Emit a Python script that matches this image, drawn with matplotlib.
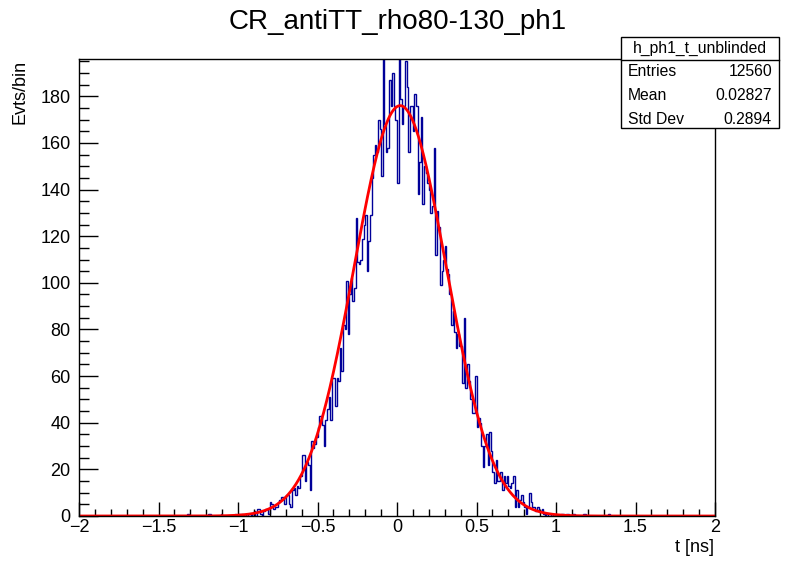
import numpy as np
import matplotlib
matplotlib.use('Agg')
import matplotlib.pyplot as plt
from matplotlib.patches import Rectangle
from matplotlib.ticker import MultipleLocator

plt.rcParams['font.family'] = ['Liberation Sans', 'DejaVu Sans']

W, H = 796, 572

# histogram: 400 bins of 0.01 ns from -2 to 2, non-empty core from -1.00 to 1.00
core_start = -1.0
core_counts = [
    1, 0, 1, 0, 0, 1, 0, 0, 1, 0,            # -1.00 .. -0.91
    2, 0, 3, 3, 1, 0, 2, 3, 3, 1,            # -0.90 .. -0.81
    6, 5, 3, 4, 4, 6, 7, 8, 8, 5,            # -0.80 .. -0.71
    9, 9, 5, 4, 11, 12, 9, 13, 12, 17,       # -0.70 .. -0.61
    26, 26, 15, 23, 22, 11, 32, 29, 31, 34,  # -0.60 .. -0.51
    38, 43, 43, 39, 30, 41, 46, 51, 41, 59,  # -0.50 .. -0.41
    59, 47, 59, 58, 72, 62, 82, 80, 101, 78,  # -0.40 .. -0.31
    95, 102, 92, 98, 128, 109, 108, 110, 119, 125,   # -0.30 .. -0.21
    129, 105, 118, 129, 145, 155, 159, 156, 170, 166,  # -0.20 .. -0.11
    146, 198, 168, 156, 158, 187, 176, 190, 176, 170,  # -0.10 .. -0.01
    143, 197, 179, 168, 176, 195, 184, 156, 176, 176,  # 0.00 .. 0.09
    165, 181, 176, 138, 152, 171, 134, 150, 147, 143,  # 0.10 .. 0.19
    140, 130, 133, 158, 112, 131, 124, 99, 105, 110,   # 0.20 .. 0.29
    116, 106, 104, 95, 82, 88, 79, 72, 78, 73,         # 0.30 .. 0.39
    73, 57, 85, 55, 65, 58, 50, 44, 44, 60,            # 0.40 .. 0.49
    38, 42, 40, 30, 21, 30, 35, 22, 36, 28,            # 0.50 .. 0.59
    19, 14, 24, 15, 15, 19, 11, 17, 14, 17,            # 0.60 .. 0.69
    13, 12, 14, 17, 4, 11, 4, 7, 9, 6,                 # 0.70 .. 0.79
    4, 1, 4, 10, 6, 4, 4, 2, 4, 2,                     # 0.80 .. 0.89
    2, 3, 1, 0, 1, 0, 0, 1, 0, 0,                      # 0.90 .. 0.99
]
# isolated single entries in the tails (ns)
tail_t = [-1.315, -1.185, -1.175, -1.105, -1.015,
          1.035, 1.045, 1.065, 1.075, 1.105, 1.115, 1.175, 1.185, 1.335]

# gaussian fit parameters
fit_const = 176.0
fit_mean = 0.02
fit_sigma = 0.29

stats_name = 'h_ph1_t_unblinded'
stats_rows = [('Entries', '12560'), ('Mean', '0.02827'), ('Std Dev', '0.2894')]

edges = np.round(np.linspace(-2, 2, 401), 3)
counts = np.zeros(400)
i0 = int(round((core_start + 2) / 0.01))
counts[i0:i0 + len(core_counts)] = core_counts
for t in tail_t:
    counts[int((t + 2) / 0.01)] += 1

fig = plt.figure(figsize=(W / 100, H / 100), dpi=100)
ax = fig.add_axes([79 / W, 1 - 516 / H, (715 - 79) / W, (516 - 59) / H])

ax.stairs(counts, edges, color='#000099', linewidth=1.0)
tf = np.linspace(-2, 2, 1200)
ax.plot(tf, fit_const * np.exp(-0.5 * ((tf - fit_mean) / fit_sigma) ** 2),
        color='#ff0000', linewidth=2.0, solid_capstyle='butt')

ax.set_xlim(-2, 2)
ax.set_ylim(0, 196)
ax.xaxis.set_minor_locator(MultipleLocator(0.1))
ax.yaxis.set_major_locator(MultipleLocator(20))
ax.yaxis.set_minor_locator(MultipleLocator(5))
ax.tick_params(axis='both', which='both', direction='in', top=False, right=False,
               labelsize=13, color='black', width=1)
ax.tick_params(axis='x', which='major', length=10, pad=2)
ax.tick_params(axis='x', which='minor', length=5)
ax.tick_params(axis='y', which='major', length=14, pad=6)
ax.tick_params(axis='y', which='minor', length=7)
ax.set_xticks(np.arange(-2, 2.01, 0.5))
ax.set_xticklabels(['\u22122', '\u22121.5', '\u22121', '\u22120.5', '0', '0.5', '1', '1.5', '2'])
for s in ax.spines.values():
    s.set_linewidth(1)

fig.text(398 / W, 1 - 22 / H, 'CR_antiTT_rho80-130_ph1', fontsize=20,
         ha='center', va='center')
fig.text(714 / W, 1 - 548 / H, 't [ns]', fontsize=13, ha='right', va='center')
fig.text(20 / W, 1 - 60 / H, 'Evts/bin', fontsize=13, rotation=90,
         ha='center', va='top')

# stats box
bx0, bx1, by0, by1 = 621, 779, 37, 128
fig.patches.append(Rectangle((bx0 / W, 1 - by1 / H), (bx1 - bx0) / W, (by1 - by0) / H,
                             transform=fig.transFigure, facecolor='white',
                             edgecolor='black', linewidth=1, zorder=5))
fig.lines.append(plt.Line2D([bx0 / W, bx1 / W], [1 - 60 / H, 1 - 60 / H],
                            transform=fig.transFigure, color='black', linewidth=1, zorder=6))
fig.text((bx0 + bx1) / 2 / W, 1 - 48 / H, stats_name, fontsize=11.3,
         ha='center', va='center', zorder=7)
for k, (lab, val) in enumerate(stats_rows):
    yy = 1 - (72 + 23.5 * k) / H
    fig.text(628 / W, yy, lab, fontsize=11.3, ha='left', va='center', zorder=7)
    fig.text(772 / W, yy, val, fontsize=11.3, ha='right', va='center', zorder=7)

fig.savefig('out.png', dpi=100)
